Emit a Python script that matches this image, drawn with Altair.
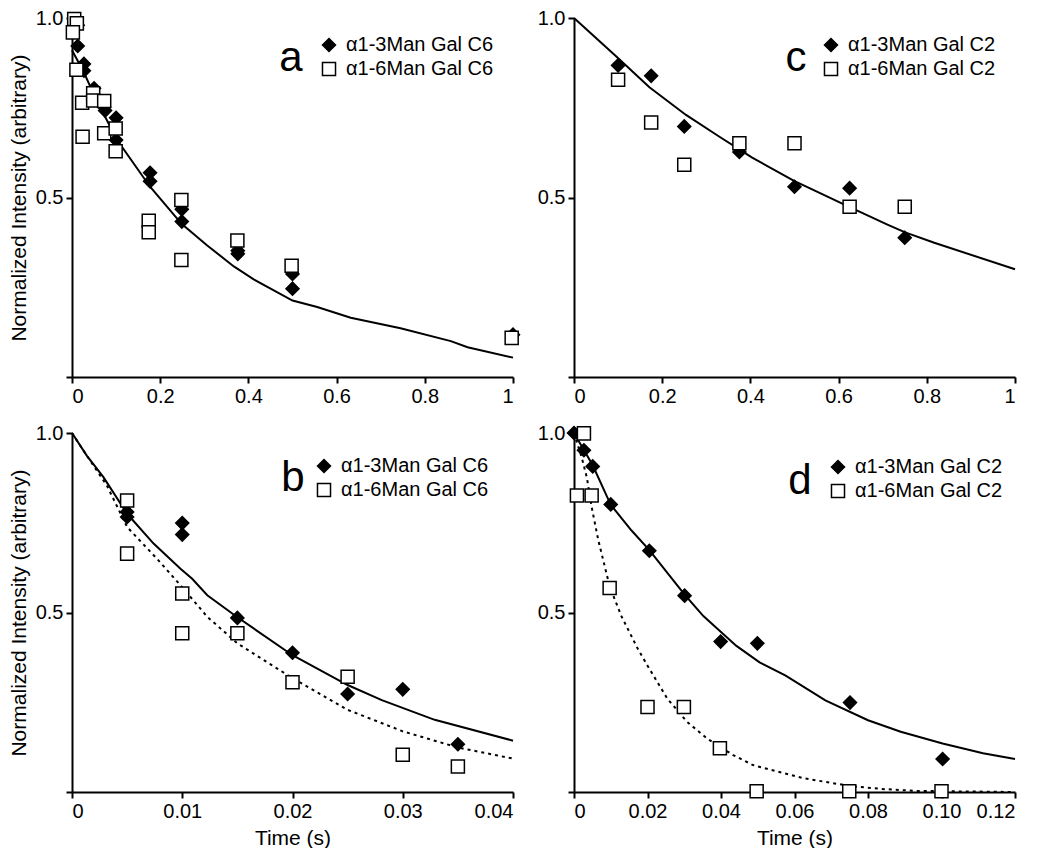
import altair as alt
import pandas as pd

FONT = "Liberation Sans"

# ---------------- Panel a (C6, long times) ----------------
A_LABELS = ["α1-3Man Gal C6", "α1-6Man Gal C6"]
A_DIA_T = [0.013, 0.013, 0.027, 0.027, 0.05, 0.073, 0.075, 0.1, 0.1, 0.177, 0.177, 0.249, 0.249, 0.376, 0.376, 0.5, 0.5, 1.0]
A_DIA_V = [0.98, 0.922, 0.872, 0.853, 0.804, 0.752, 0.742, 0.722, 0.66, 0.569, 0.545, 0.467, 0.433, 0.352, 0.343, 0.287, 0.246, 0.118]
A_SQ_T = [0.005, 0.011, 0.002, 0.01, 0.023, 0.024, 0.048, 0.048, 0.073, 0.073, 0.099, 0.099, 0.174, 0.174, 0.248, 0.248, 0.375, 0.498, 0.997]
A_SQ_V = [0.997, 0.985, 0.96, 0.856, 0.764, 0.669, 0.79, 0.77, 0.769, 0.679, 0.692, 0.629, 0.435, 0.403, 0.493, 0.326, 0.38, 0.31, 0.109]
A_FIT_T = [0, 0.026, 0.056, 0.102, 0.177, 0.249, 0.306, 0.367, 0.412, 0.5, 0.556, 0.632, 0.745, 0.859, 0.897, 1.0]
A_FIT_V = [0.91, 0.851, 0.77, 0.661, 0.53, 0.426, 0.367, 0.308, 0.272, 0.213, 0.195, 0.165, 0.136, 0.1, 0.083, 0.054]

# ---------------- Panel b (C6, short times) ----------------
B_LABELS = ["α1-3Man Gal C6", "α1-6Man Gal C6"]
B_DIA_T = [0.005, 0.005, 0.01, 0.01, 0.015, 0.02, 0.025, 0.03, 0.035]
B_DIA_V = [0.78, 0.766, 0.749, 0.717, 0.485, 0.388, 0.273, 0.286, 0.133]
B_SQ_T = [0.005, 0.005, 0.01, 0.01, 0.015, 0.02, 0.025, 0.03, 0.035]
B_SQ_V = [0.812, 0.664, 0.553, 0.442, 0.442, 0.306, 0.321, 0.104, 0.071]
B_FIT1_T = [0, 0.00134, 0.00285, 0.005, 0.0074, 0.00984, 0.0109, 0.01227, 0.01494, 0.02, 0.025, 0.0281, 0.0329, 0.04]
B_FIT1_V = [1.0, 0.937, 0.877, 0.775, 0.692, 0.622, 0.594, 0.548, 0.488, 0.381, 0.298, 0.256, 0.201, 0.143]
B_FIT2_T = [0, 0.00164, 0.00316, 0.005, 0.0077, 0.00984, 0.01227, 0.015, 0.02, 0.025, 0.03, 0.035, 0.04]
B_FIT2_V = [1.0, 0.923, 0.854, 0.738, 0.65, 0.576, 0.488, 0.414, 0.317, 0.229, 0.169, 0.124, 0.093]

# ---------------- Panel c (C2, long times) ----------------
C_LABELS = ["α1-3Man Gal C2", "α1-6Man Gal C2"]
C_DIA_T = [0.1, 0.175, 0.25, 0.375, 0.5, 0.625, 0.75]
C_DIA_V = [0.868, 0.839, 0.698, 0.627, 0.53, 0.526, 0.388]
C_SQ_T = [0.1, 0.175, 0.25, 0.375, 0.5, 0.625, 0.75]
C_SQ_V = [0.828, 0.709, 0.591, 0.651, 0.651, 0.474, 0.474]
C_FIT_T = [0, 0.096, 0.171, 0.254, 0.329, 0.404, 0.498, 0.624, 0.712, 0.751, 0.817, 1.0]
C_FIT_V = [1.0, 0.893, 0.807, 0.73, 0.67, 0.611, 0.547, 0.474, 0.424, 0.403, 0.374, 0.3]

# ---------------- Panel d (C2, short times) ----------------
D_LABELS = ["α1-3Man Gal C2", "α1-6Man Gal C2"]
D_DIA_T = [0, 0.0027, 0.0051, 0.01, 0.0205, 0.0301, 0.0399, 0.0499, 0.0751, 0.1003]
D_DIA_V = [1.0, 0.952, 0.907, 0.801, 0.672, 0.547, 0.419, 0.414, 0.249, 0.092]
D_SQ_T = [0.0027, 0.0008, 0.0048, 0.0097, 0.02, 0.0299, 0.0397, 0.0497, 0.0749, 0.1]
D_SQ_V = [0.999, 0.826, 0.826, 0.568, 0.237, 0.237, 0.122, 0.002, 0.002, 0.002]
D_FIT1_T = [0, 0.0051, 0.01, 0.0156, 0.0205, 0.0301, 0.0352, 0.0442, 0.0505, 0.0576, 0.0684, 0.08, 0.0889, 0.1003, 0.1113, 0.12]
D_FIT1_V = [1.0, 0.91, 0.80, 0.729, 0.674, 0.55, 0.49, 0.407, 0.361, 0.324, 0.255, 0.2, 0.168, 0.135, 0.108, 0.092]
D_FIT2_T = [0, 0.0021, 0.0035, 0.0048, 0.0066, 0.0097, 0.0129, 0.0174, 0.02, 0.0254, 0.0308, 0.0362, 0.0433, 0.0487, 0.0621, 0.0755, 0.0845, 0.093, 0.12]
D_FIT2_V = [1.0, 0.932, 0.876, 0.794, 0.702, 0.573, 0.49, 0.398, 0.352, 0.26, 0.195, 0.149, 0.103, 0.075, 0.039, 0.016, 0.008, 0.003, 0.0]

Y_TICKS = [0, 0.5, 1.0]
X_TICKS_LONG = [0, 0.2, 0.4, 0.6, 0.8, 1.0]
X_TICKS_B = [0, 0.01, 0.02, 0.03, 0.04]
X_TICKS_D = [0, 0.02, 0.04, 0.06, 0.08, 0.10, 0.12]

W = 441
H = 359


def panel(letter, labels, dia_t, dia_v, sq_t, sq_v, fits, xdom, xticks, xlabel_expr,
          ytitle, xtitle, legend_xy, letter_xy):
    pts = pd.DataFrame({
        "t": list(dia_t) + list(sq_t),
        "v": list(dia_v) + list(sq_v),
        "series": [labels[0]] * len(dia_t) + [labels[1]] * len(sq_t),
    })
    xscale = alt.Scale(domain=xdom, nice=False, zero=False)
    yscale = alt.Scale(domain=[0, 1], nice=False)
    xaxis = alt.Axis(values=xticks, labelExpr=xlabel_expr, title=xtitle,
                     labelPadding=3, titlePadding=6)
    yaxis = alt.Axis(values=Y_TICKS,
                     labelExpr="datum.value == 0 ? '' : format(datum.value, '.1f')",
                     title=ytitle, labelPadding=3, titlePadding=6)

    layers = []
    for (ft, fv, dash) in fits:
        fdf = pd.DataFrame({"t": ft, "v": fv})
        kw = {"color": "black", "strokeWidth": 2}
        if dash:
            kw["strokeDash"] = [3, 4]
        layers.append(
            alt.Chart(fdf).mark_line(**kw).encode(
                x=alt.X("t:Q", scale=xscale, axis=xaxis),
                y=alt.Y("v:Q", scale=yscale, axis=yaxis),
            )
        )

    leg = dict(orient="none", legendX=legend_xy[0], legendY=legend_xy[1], title=None,
               labelFont=FONT, labelFontSize=20, labelColor="black", symbolSize=170,
               symbolStrokeWidth=1.5, symbolOpacity=1,
               padding=0, rowPadding=4, labelOffset=7)
    points = alt.Chart(pts).mark_point(filled=True, opacity=1,
                                       strokeWidth=1.5, size=170).encode(
        x=alt.X("t:Q", scale=xscale, axis=xaxis),
        y=alt.Y("v:Q", scale=yscale, axis=yaxis),
        shape=alt.Shape("series:N", scale=alt.Scale(domain=labels, range=["diamond", "square"]),
                        legend=alt.Legend(**leg)),
        fill=alt.Fill("series:N", scale=alt.Scale(domain=labels, range=["black", "white"]),
                      legend=alt.Legend(**leg)),
        stroke=alt.Stroke("series:N", scale=alt.Scale(domain=labels, range=["black", "black"]),
                          legend=alt.Legend(**leg)),
    )
    layers.append(points)

    txt = alt.Chart(pd.DataFrame({"lab": [letter]})).mark_text(
        font=FONT, fontSize=42, align="center", baseline="alphabetic", color="black"
    ).encode(text="lab:N", x=alt.value(letter_xy[0]), y=alt.value(letter_xy[1]))
    layers.append(txt)

    return alt.layer(*layers).properties(width=W, height=H)


long_expr = "datum.value == 0 ? '0' : (datum.value == 1 ? '1' : format(datum.value, '.1f'))"
short_expr = "datum.value == 0 ? '0' : format(datum.value, '.2f')"
ytitle = "Normalized Intensity (arbitrary)"

pa = panel("a", A_LABELS, A_DIA_T, A_DIA_V, A_SQ_T, A_SQ_V, [(A_FIT_T, A_FIT_V, False)],
           [0, 1], X_TICKS_LONG, long_expr, ytitle, None, (247, 17), (219, 53))
pc = panel("c", C_LABELS, C_DIA_T, C_DIA_V, C_SQ_T, C_SQ_V, [(C_FIT_T, C_FIT_V, False)],
           [0, 1], X_TICKS_LONG, long_expr, None, None, (247, 17), (222, 53))
pb = panel("b", B_LABELS, B_DIA_T, B_DIA_V, B_SQ_T, B_SQ_V,
           [(B_FIT1_T, B_FIT1_V, False), (B_FIT2_T, B_FIT2_V, True)],
           [0, 0.04], X_TICKS_B, short_expr, ytitle, "Time (s)", (242, 23), (221, 58))
pd_ = panel("d", D_LABELS, D_DIA_T, D_DIA_V, D_SQ_T, D_SQ_V,
            [(D_FIT1_T, D_FIT1_V, False), (D_FIT2_T, D_FIT2_V, True)],
            [0, 0.12], X_TICKS_D, short_expr, None, "Time (s)", (254, 24), (226, 61))

chart = alt.concat(pa, pc, pb, pd_, columns=2, bounds="flush",
                   spacing={"row": 56, "column": 61}).resolve_scale(
    x="independent", y="independent", shape="independent", fill="independent",
    stroke="independent"
).resolve_legend(shape="independent", fill="independent", stroke="independent").properties(
    padding=0, background="white"
).configure_view(stroke=None).configure_axis(
    grid=False, domainColor="black", domainWidth=2, tickColor="black", tickWidth=2,
    tickSize=6, labelColor="black", labelFont=FONT, labelFontSize=20,
    titleFont=FONT, titleFontSize=21, titleFontWeight="normal", titleColor="black",
    labelOverlap=False,
)

chart.save("out.html", embed_options={"renderer": "svg", "actions": False})
